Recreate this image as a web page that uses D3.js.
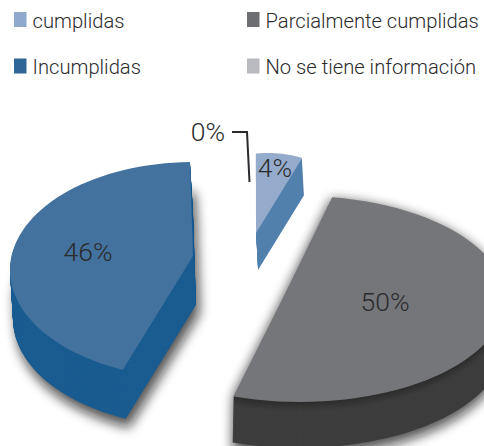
<!DOCTYPE html>
<html>
<head>
<meta charset="utf-8">
<script src="https://cdnjs.cloudflare.com/ajax/libs/d3/7.8.5/d3.min.js"></script>
<style>
  html, body { margin: 0; padding: 0; background: #fff; overflow: hidden; }
  text { font-family: Roboto, "Liberation Sans", sans-serif; font-weight: 300; fill: #2b2b2d; }
</style>
</head>
<body>
<div class="svg-container"></div>
<script>
const categories = ["cumplidas", "Parcialmente cumplidas", "Incumplidas", "No se tiene información"];
const values = [4, 50, 46, 0];

const width = 484;
const height = 446;

const legendColors = ["#8fa9cc", "#6d6e71", "#2f6698", "#b9bac0"];
const topColors = ["#95abcb", "#757679", "#43729f", "#b9bac0"];
const wallColors = ["#5280ad", "#3d3d3d", "#1a5c90", "#b9bac0"];
const wallEdgeColors = ["#5280ad", "#2c2c2c", "#1a5c90", "#b9bac0"];

// each exploded slice is drawn on its own tilted ellipse. twist/stretch correct
// the pie angle for the perspective of the original 3d chart
const geometry = [
  { px: 256, py: 233, ex: 268, ey: 235, rx: 100, ry: 82, twist: -0.7, stretch: 1.87, dx: 2, dy: 37, shadow: 0, lx: 275, ly: 168 },
  { px: 283, py: 298, ex: 300, ey: 299, rx: 205, ry: 103, twist: -0.4, stretch: 1.055, dx: -1, dy: 46, shadow: 0.7, shadowFrom: 0, lx: 385, ly: 302 },
  { px: 193, py: 256, ex: 193, ey: 270, rx: 183, ry: 108, twist: 3.6, stretch: 0.945, dx: 3, dy: 49, shadow: 0.7, shadowFrom: 28, lx: 88, ly: 252 },
  { lx: 208, ly: 132 },
];

const svg = d3
  .select(".svg-container")
  .append("svg")
  .attr("width", width)
  .attr("height", height)
  .style("display", "block");

svg
  .append("defs")
  .append("filter")
  .attr("id", "soft")
  .attr("x", "-20%")
  .attr("y", "-20%")
  .attr("width", "140%")
  .attr("height", "140%")
  .append("feGaussianBlur")
  .attr("stdDeviation", 6);

const arcs = d3.pie().sort(null)(values);

// outline of one slice: pivot, then the arc along its ellipse
function sliceOutline(d, g) {
  const mid = (d.startAngle + d.endAngle) / 2;
  const steps = d3.range(0, 61).map((i) => d.startAngle + ((d.endAngle - d.startAngle) * i) / 60);
  const points = steps.map((a) => {
    const t = mid + (a - mid) * g.stretch + (g.twist * Math.PI) / 180;
    return [g.ex + g.rx * Math.sin(t), g.ey - g.ry * Math.cos(t)];
  });
  return [[g.px, g.py], ...points];
}

const line = d3.line().curve(d3.curveLinearClosed);

// blurred shadows go below everything
arcs.forEach((d, i) => {
  const g = geometry[i];
  if (d.value === 0 || !g.shadow) return;
  const outline = line(sliceOutline(d, g));
  svg
    .append("g")
    .attr("filter", "url(#soft)")
    .attr("opacity", g.shadow)
    .selectAll("path")
    .data(d3.range(g.shadowFrom, g.dy + 8, 4))
    .enter()
    .append("path")
    .attr("d", outline)
    .attr("fill", "#111")
    .attr("transform", (s) => `translate(${g.dx + (s * g.dx) / g.dy},${s + 2})`);
});

// slices: the side wall is a stack of copies, the top face goes on it
arcs.forEach((d, i) => {
  const g = geometry[i];
  if (d.value === 0) return;
  const outline = line(sliceOutline(d, g));
  const shade = d3.interpolateRgb(wallEdgeColors[i], wallColors[i]);
  const slice = svg.append("g").attr("class", "slice");
  slice
    .selectAll("path.wall")
    .data(d3.range(g.dy, 0, -1))
    .enter()
    .append("path")
    .attr("class", "wall")
    .attr("d", outline)
    .attr("fill", (s) => shade(Math.min(1, s / 10)))
    .attr("transform", (s) => `translate(${(s * g.dx) / g.dy},${s})`);
  slice.append("path").attr("d", outline).attr("fill", topColors[i]);
});

// value labels
svg
  .selectAll("text.value")
  .data(values)
  .enter()
  .append("text")
  .attr("class", "value")
  .attr("x", (d, i) => geometry[i].lx)
  .attr("y", (d, i) => geometry[i].ly)
  .attr("dy", "0.35em")
  .attr("text-anchor", "middle")
  .style("font-size", "26.5px")
  .text((d) => `${d}%`);

// leader from the 0% label
const leaderSource = [[232, 132], [247, 132], [249.5, 182]];
svg
  .append("path")
  .attr("d", d3.line()(leaderSource))
  .attr("fill", "none")
  .attr("stroke", "#2b2b2d")
  .attr("stroke-width", 2);

// legend
const legendX = d3.scaleOrdinal().domain([0, 1]).range([14, 247]);
const legendY = d3.scaleOrdinal().domain([0, 1]).range([12, 58.5]);
const legend = svg
  .selectAll("g.legend")
  .data(categories)
  .enter()
  .append("g")
  .attr("class", "legend")
  .attr("transform", (d, i) => `translate(${legendX(i % 2)},${legendY(i >> 1)})`);

legend
  .append("rect")
  .attr("width", 12.5)
  .attr("height", 15)
  .attr("fill", (d, i) => legendColors[i]);

legend
  .append("text")
  .attr("x", 18.5)
  .attr("y", 15.6)
  .style("font-size", "20.2px")
  .text((d) => d);
</script>
</body>
</html>
